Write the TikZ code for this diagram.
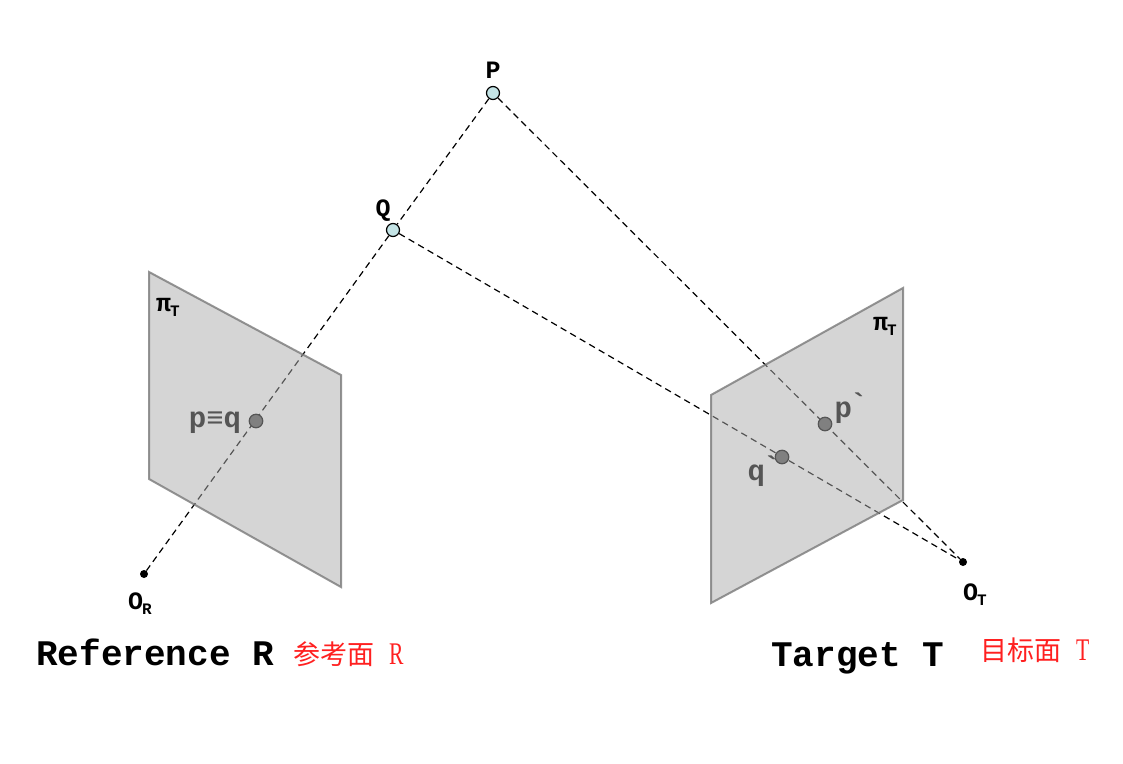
\documentclass[tikz,border=0pt]{standalone}
\usepackage{fontspec}
\usepackage{xcolor}
\setmainfont{Liberation Serif}
\newfontfamily\labelfont[BoldFont=*]{Liberation Mono Bold}
\newfontfamily\cjkfont{Noto Sans CJK SC}
\newcommand{\subtext}[1]{{\fontsize{16}{16}\selectfont\kern-1pt\raisebox{-5pt}{#1}}}
\newcommand{\primemark}{\kern-2pt\raisebox{4pt}{`}}
\newcommand{\thinletter}[1]{\scalebox{0.72}[1.05]{#1}}
\definecolor{planefill}{HTML}{ABABAB}
\definecolor{planeline}{HTML}{7A7A7A}
\definecolor{ptfill}{HTML}{C4E4E6}
\definecolor{imgtext}{HTML}{555555}
\definecolor{imgfill}{HTML}{808080}
\definecolor{notered}{HTML}{FF2020}
\tikzset{
  plane/.style={draw=planeline,fill=planefill,fill opacity=0.5,draw opacity=0.8,line width=2pt,line join=miter},
  ray/.style={dash pattern=on 6.5pt off 4.5pt,line width=1.2pt},
  space/.style={circle,draw=black,fill=ptfill,line width=1.2pt,minimum size=13pt,inner sep=0pt},
  image/.style={circle,draw=imgtext,fill=imgfill,line width=1.2pt,minimum size=13.5pt,inner sep=0pt},
  centre/.style={circle,fill=black,minimum size=8pt,inner sep=0pt},
  tag/.style={inner sep=0pt,font=\labelfont\fontsize{25}{25}\selectfont},
  imgtag/.style={inner sep=0pt,text=imgtext,font=\labelfont\fontsize{29}{29}\selectfont},
  title/.style={inner sep=0pt,anchor=base west,font=\labelfont\fontsize{36}{36}\selectfont},
  note/.style={inner sep=0pt,anchor=base west,text=notered,font=\fontsize{30}{30}\selectfont}
}
\begin{document}
\begin{tikzpicture}[x=1pt,y=-1pt,node distance=23pt]
  \useasboundingbox (0,0) rectangle (1123,763);
  % Scene points
  \node (P) [space] at (493,93) {};
  \node (Q) [space] at (393,230) {};
  % Camera centres
  \node (OR) [centre] at (144,574) {};
  \node (OT) [centre] at (963,562) {};
  % Rays
  \draw[ray] (P) -- (Q);
  \draw[ray] (Q) -- (OR);
  \draw[ray] (P) -- (OT);
  \draw[ray] (Q) -- (OT);
  % Planes
  \draw[plane] (149,272) -- (341,375) -- (341,587) -- (149,479) -- cycle;
  \draw[plane] (711,395) -- (903,288) -- (903,500) -- (711,603) -- cycle;
  % Image points
  \node (pq) [image] at (256,421) {};
  \node (pp) [image] at (825,424) {};
  \node (qp) [image] at (782,457) {};
  % Labels
  \node (Plabel) [tag,above of=P] {P};
  \node (Qlabel) [tag] at (383,211) {Q};
  \node (ORlabel) [tag] at (140,604) {O\subtext{R}};
  \node (OTlabel) [tag] at (975,595) {O\subtext{T}};
  \node (piR) [tag] at (168,307) {π\subtext{T}};
  \node (piT) [tag] at (885,326) {π\subtext{T}};
  \node (pqlabel) [imgtag] at (215,423) {p≡q};
  \node (pplabel) [imgtag] at (851,408) {p\primemark};
  \node (qplabel) [imgtag] at (764,471) {q\primemark};
  % Titles
  \node (reftitle) [title] at (36,665) {Reference R};
  \node (refnote) [note] at (293,664) {{\cjkfont\fontsize{27}{27}\selectfont 参考面}\hspace{15pt}\thinletter{R}};
  \node (tartitle) [title] at (771,666) {Target T};
  \node (tarnote) [note] at (980,660) {{\cjkfont\fontsize{27}{27}\selectfont 目标面}\hspace{15pt}\thinletter{T}};
\end{tikzpicture}
\end{document}
